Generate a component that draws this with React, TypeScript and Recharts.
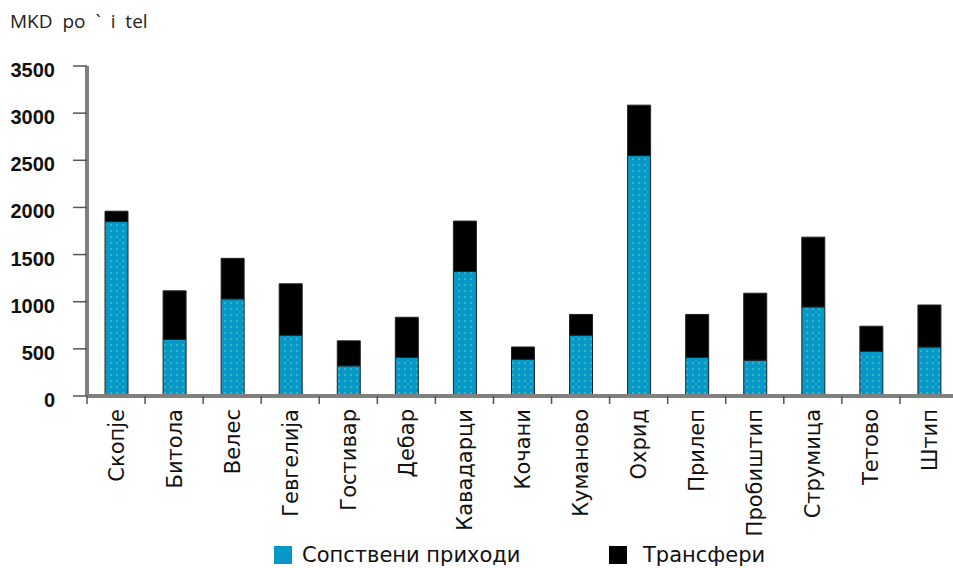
import React from 'react';
import { BarChart, Bar, XAxis, YAxis, Legend } from 'recharts';

const categories = ['Скопје', 'Битола', 'Велес', 'Гевгелија', 'Гостивар', 'Дебар', 'Кавадарци', 'Кочани', 'Куманово', 'Охрид', 'Прилеп', 'Пробиштип', 'Струмица', 'Тетово', 'Штип'];
const ownRevenue = [1850, 600, 1030, 645, 320, 410, 1320, 390, 645, 2550, 410, 380, 945, 475, 520];
const transfers = [110, 515, 430, 545, 265, 425, 535, 130, 220, 535, 455, 710, 740, 265, 445];
const yTicks = [0, 500, 1000, 1500, 2000, 2500, 3000, 3500];
const seriesNames = ['Сопствени приходи', 'Трансфери'];
const title = 'MKD po ` i tel';

const data = categories.map((c, i) => ({ name: c, own: ownRevenue[i], transfer: transfers[i] }));

const CHART_W = 965;
const CHART_H = 568;
const Y_AXIS_W = 87;
const RIGHT_M = 7;
const BAND = (CHART_W - Y_AXIS_W - RIGHT_M) / categories.length;
const BLUE = '#0898c8';

const XTick = (props: any) => {
  const { x, y, payload } = props;
  const bx = x - BAND / 2;
  return (
    <g>
      <line x1={bx} x2={bx} y1={y} y2={y + 8} stroke="#555" strokeWidth={1.5} />
      <text
        transform={`translate(${x},${y + 13}) rotate(-90)`}
        textAnchor="end"
        dy="0.36em"
        fontFamily="'DejaVu Sans', sans-serif"
        fontSize={21}
        fill="#111"
      >
        {payload.value}
      </text>
    </g>
  );
};

const YTick = (props: any) => {
  const { x, y, payload } = props;
  return (
    <text x={x} y={y + 11} textAnchor="end" fontFamily="'Liberation Sans', Arial, sans-serif" fontWeight="bold" fontSize={20} fill="#111">
      {payload.value}
    </text>
  );
};

const LegendContent = () => (
  <div style={{ position: 'relative', width: 953, height: 24, fontFamily: "'DejaVu Sans', sans-serif", fontSize: 21, lineHeight: '24px', color: '#111' }}>
    <div style={{ position: 'absolute', left: 274, top: 3, width: 18, height: 18, background: BLUE }} />
    <div style={{ position: 'absolute', left: 302, top: 0, whiteSpace: 'nowrap' }}>{seriesNames[0]}</div>
    <div style={{ position: 'absolute', left: 609, top: 3, width: 18, height: 18, background: '#000' }} />
    <div style={{ position: 'absolute', left: 643, top: 0, whiteSpace: 'nowrap' }}>{seriesNames[1]}</div>
  </div>
);

export default function App() {
  return (
    <div style={{ position: 'fixed', left: 0, top: 0, width: 953, height: 568, overflow: 'hidden', background: '#fff' }}>
      <div style={{ position: 'absolute', left: 10, top: 11, fontFamily: "'Open Sans', sans-serif", fontSize: 19, lineHeight: '20px', color: '#222', whiteSpace: 'pre', wordSpacing: 5 }}>
        {title}
      </div>
      <BarChart width={CHART_W} height={CHART_H} data={data} margin={{ top: 66, right: RIGHT_M, left: 0, bottom: 0 }}>
        <defs>
          <pattern id="dots" width="6" height="6" patternUnits="userSpaceOnUse">
            <rect width="6" height="6" fill={BLUE} />
            <circle cx="3" cy="3" r="0.9" fill="#3fc8c0" />
          </pattern>
        </defs>
        <XAxis
          dataKey="name"
          height={CHART_H - 396}
          tickSize={0}
          tickMargin={0}
          tickLine={false}
          axisLine={{ stroke: '#808080', strokeWidth: 4 }}
          tick={<XTick />}
          interval={0}
        />
        <YAxis
          width={Y_AXIS_W}
          domain={[0, 3500]}
          ticks={yTicks}
          tickSize={14}
          tickMargin={18}
          tickLine={{ stroke: '#555', strokeWidth: 1.5 }}
          axisLine={{ stroke: '#808080', strokeWidth: 4 }}
          tick={<YTick />}
          allowDataOverflow
        />
        <Legend
          verticalAlign="middle"
          align="center"
          layout="horizontal"
          wrapperStyle={{ top: 543, left: 0, bottom: 'auto', right: 'auto', width: 953, height: 24 }}
          content={<LegendContent />}
        />
        <Bar dataKey="own" name={seriesNames[0]} stackId="a" fill="url(#dots)" stroke="#222" strokeWidth={1} barSize={23} isAnimationActive={false} />
        <Bar dataKey="transfer" name={seriesNames[1]} stackId="a" fill="#000" stroke="#222" strokeWidth={1} barSize={23} isAnimationActive={false} />
      </BarChart>
    </div>
  );
}
